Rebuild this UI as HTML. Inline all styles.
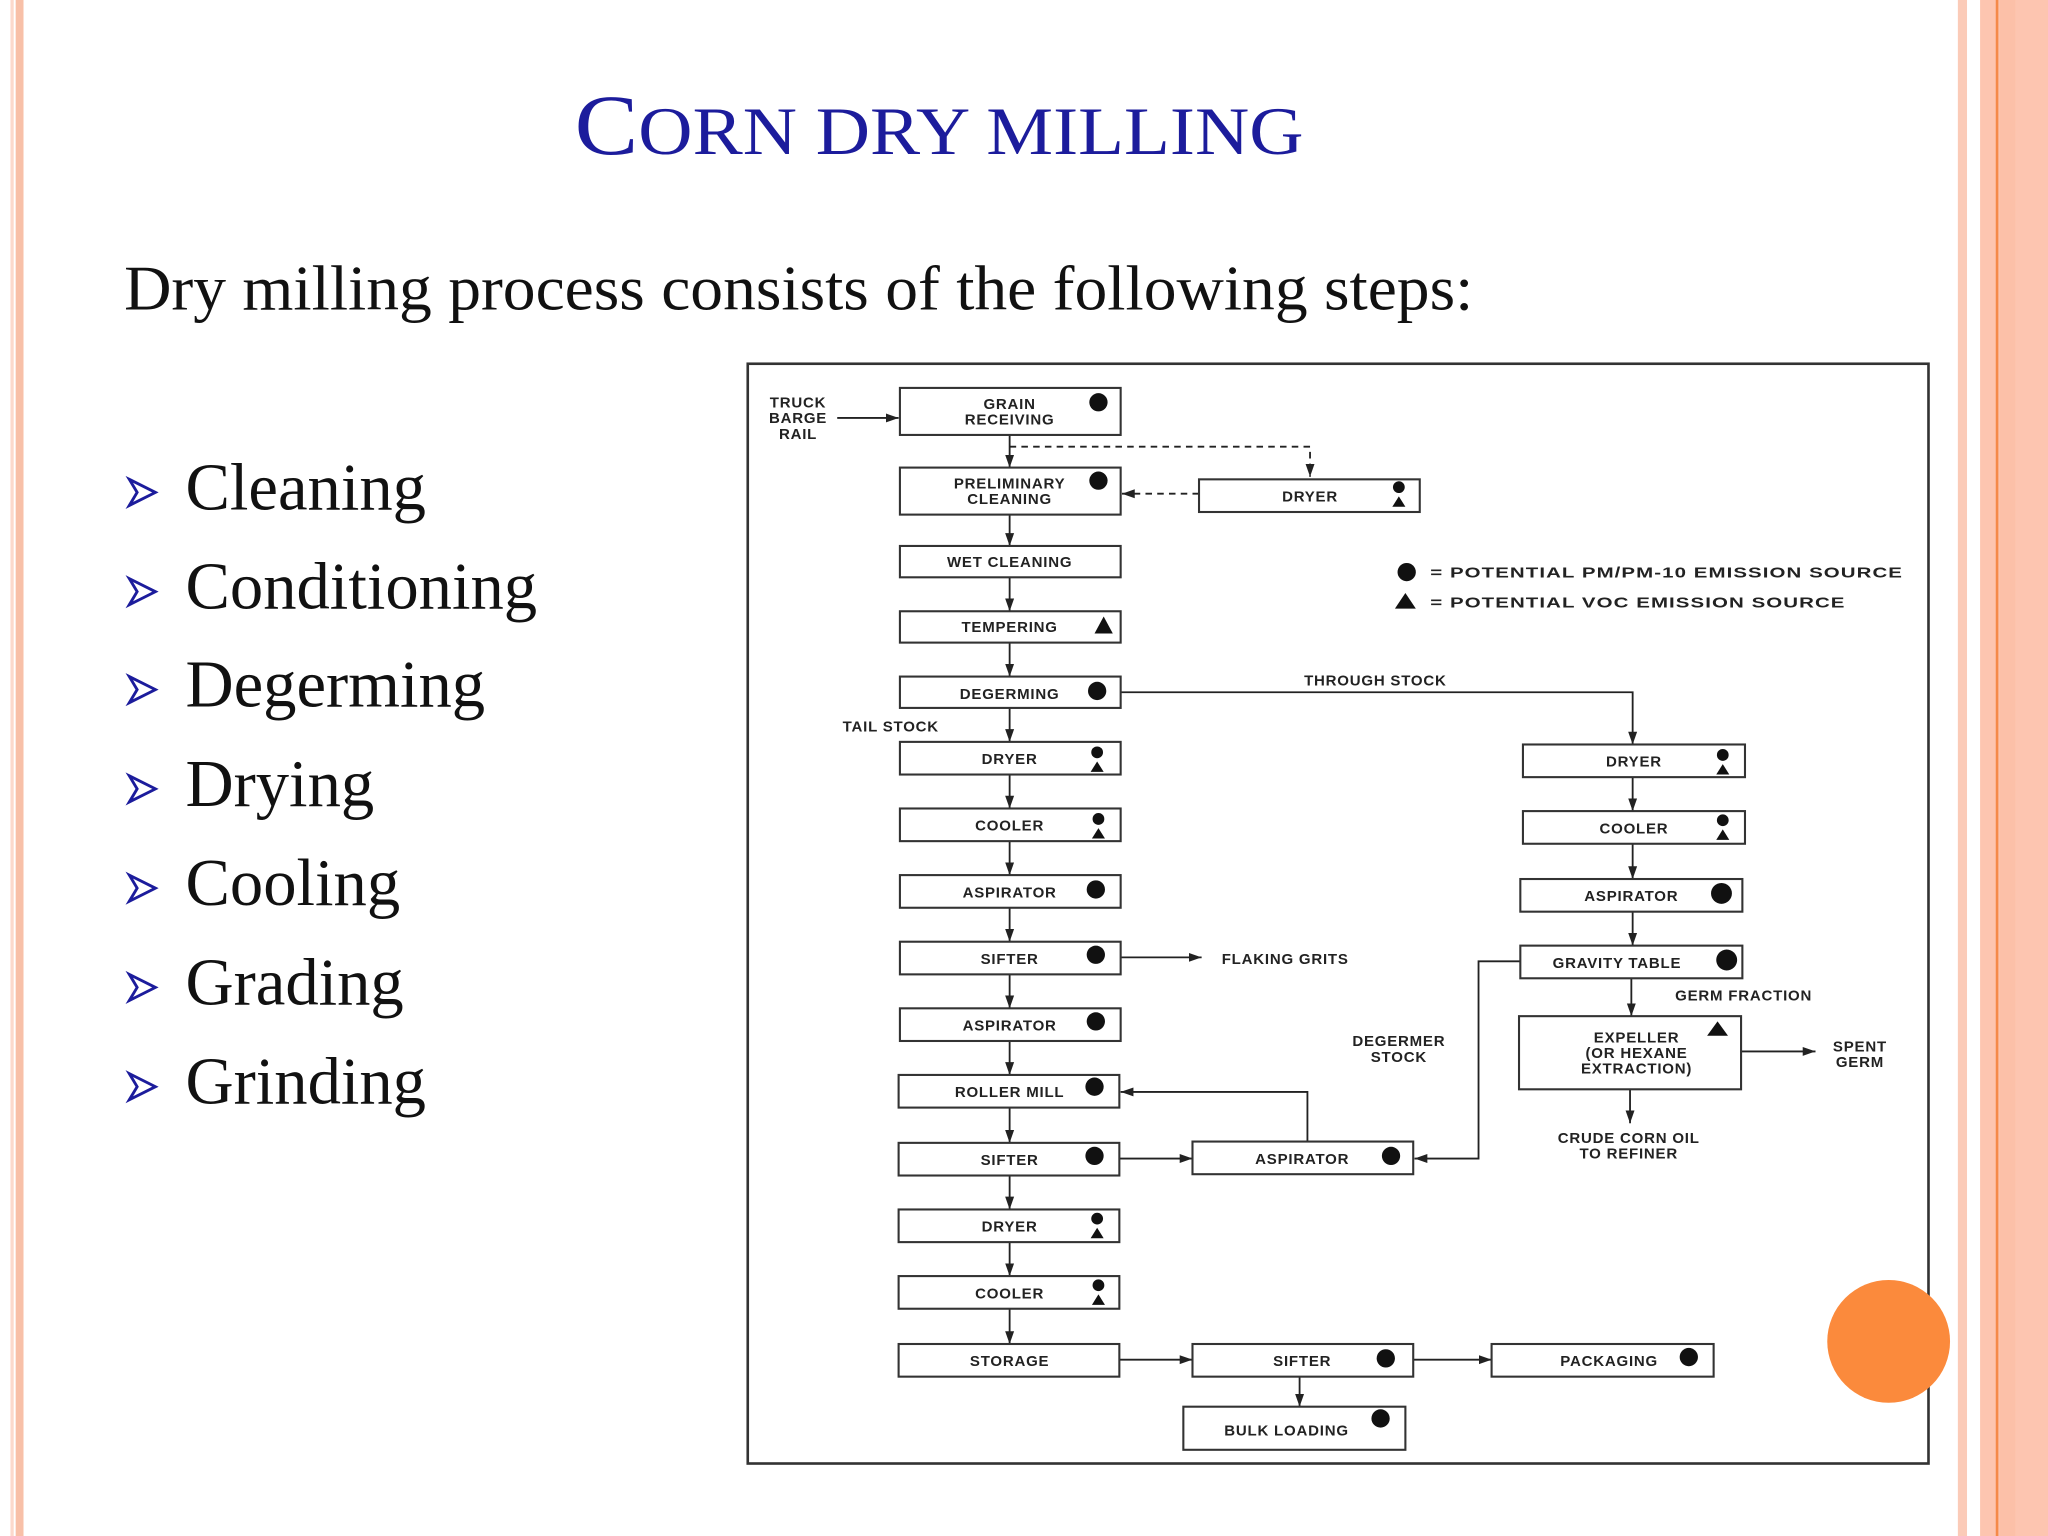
<!DOCTYPE html>
<html><head><meta charset="utf-8"><style>
html,body{margin:0;padding:0;background:#fff;}
svg{display:block;}
.d{font-family:"Liberation Sans",sans-serif;font-weight:bold;font-size:11.5px;letter-spacing:0.6px;fill:#222;text-anchor:middle;}
.b{fill:#fff;stroke:#333;stroke-width:1.6;}
.l{stroke:#222;stroke-width:1.4;fill:none;}
.dash{stroke:#222;stroke-width:1.4;fill:none;stroke-dasharray:5,4;}
</style></head><body>
<svg width="2048" height="1536" viewBox="0 0 1568 1176" xmlns="http://www.w3.org/2000/svg">
<defs>
<marker id="a" viewBox="0 0 10 10" refX="10" refY="5" markerWidth="7" markerHeight="7" orient="auto"><path d="M0,1.5 L10,5 L0,8.5 z" fill="#222"/></marker>
</defs>
<rect width="1568" height="1176" fill="#fff"/>
<rect x="8" y="0" width="2.5" height="1176" fill="#fcd9cc"/>
<rect x="12" y="0" width="6" height="1176" fill="#f8c0a8"/>
<rect x="1499" y="0" width="7" height="1176" fill="#fbcbb8"/>
<rect x="1516" y="0" width="52" height="1176" fill="#fdc5b0"/>
<rect x="1528" y="0" width="2" height="1176" fill="#f58a4a"/>
<rect x="1531" y="0" width="12" height="1176" fill="#fcc0a8"/>
<text x="719" y="118" text-anchor="middle" font-family="Liberation Serif,serif" font-size="66" fill="#1c1c9c" textLength="558" lengthAdjust="spacingAndGlyphs">C<tspan font-size="52">ORN DRY MILLING</tspan></text>
<text x="95" y="237" font-family="Liberation Serif,serif" font-size="49" fill="#111" textLength="1033" lengthAdjust="spacingAndGlyphs">Dry milling process consists of the following steps:</text>
<g font-family="Liberation Serif,serif" font-size="51" fill="#111">
<text x="142" y="390">Cleaning</text>
<text x="142" y="466">Conditioning</text>
<text x="142" y="541">Degerming</text>
<text x="142" y="617">Drying</text>
<text x="142" y="693">Cooling</text>
<text x="142" y="769">Grading</text>
<text x="142" y="845">Grinding</text>
</g>
<g fill="none" stroke="#1c1c9c" stroke-width="2.2" stroke-linejoin="miter">
<path d="M99,367 L119,377 L99,387 L105,377 z"/>
<path d="M99,443 L119,453 L99,463 L105,453 z"/>
<path d="M99,518 L119,528 L99,538 L105,528 z"/>
<path d="M99,594 L119,604 L99,614 L105,604 z"/>
<path d="M99,670 L119,680 L99,690 L105,680 z"/>
<path d="M99,746 L119,756 L99,766 L105,756 z"/>
<path d="M99,822 L119,832 L99,842 L105,832 z"/>
</g>
<rect x="572.5" y="278.5" width="904" height="842" fill="#fff" stroke="#333" stroke-width="2"/>
<g class="l">
<line x1="641" y1="320" x2="688" y2="320" marker-end="url(#a)"/>
<line x1="773" y1="333" x2="773" y2="358" marker-end="url(#a)"/>
<line x1="773" y1="394" x2="773" y2="418" marker-end="url(#a)"/>
<line x1="773" y1="442" x2="773" y2="468" marker-end="url(#a)"/>
<line x1="773" y1="492" x2="773" y2="518" marker-end="url(#a)"/>
<line x1="773" y1="542" x2="773" y2="568" marker-end="url(#a)"/>
<line x1="773" y1="593" x2="773" y2="619" marker-end="url(#a)"/>
<line x1="773" y1="644" x2="773" y2="670" marker-end="url(#a)"/>
<line x1="773" y1="695" x2="773" y2="721" marker-end="url(#a)"/>
<line x1="773" y1="746" x2="773" y2="772" marker-end="url(#a)"/>
<line x1="773" y1="797" x2="773" y2="823" marker-end="url(#a)"/>
<line x1="773" y1="848" x2="773" y2="875" marker-end="url(#a)"/>
<line x1="773" y1="900" x2="773" y2="926" marker-end="url(#a)"/>
<line x1="773" y1="951" x2="773" y2="977" marker-end="url(#a)"/>
<line x1="773" y1="1002" x2="773" y2="1029" marker-end="url(#a)"/>
<line x1="858" y1="733" x2="920" y2="733" marker-end="url(#a)"/>
<polyline points="858,530 1250,530 1250,570" marker-end="url(#a)"/>
<line x1="1250" y1="595" x2="1250" y2="621" marker-end="url(#a)"/>
<line x1="1250" y1="646" x2="1250" y2="673" marker-end="url(#a)"/>
<line x1="1250" y1="698" x2="1250" y2="724" marker-end="url(#a)"/>
<line x1="1249" y1="749" x2="1249" y2="778" marker-end="url(#a)"/>
<line x1="1333" y1="805" x2="1390" y2="805" marker-end="url(#a)"/>
<line x1="1248" y1="834" x2="1248" y2="860" marker-end="url(#a)"/>
<polyline points="1164,736 1132,736 1132,887 1083,887" marker-end="url(#a)"/>
<polyline points="1001,874 1001,836 858,836" marker-end="url(#a)"/>
<line x1="857" y1="887" x2="913" y2="887" marker-end="url(#a)"/>
<line x1="857" y1="1041" x2="913" y2="1041" marker-end="url(#a)"/>
<line x1="1082" y1="1041" x2="1142" y2="1041" marker-end="url(#a)"/>
<line x1="995" y1="1054" x2="995" y2="1077" marker-end="url(#a)"/>
</g>
<polyline class="dash" points="773,342 1003,342 1003,365" marker-end="url(#a)"/>
<line class="dash" x1="918" y1="378" x2="859" y2="378" marker-end="url(#a)"/>
<g>
<rect class="b" x="689" y="297" width="169" height="36"/>
<rect class="b" x="689" y="358" width="169" height="36"/>
<rect class="b" x="918" y="367" width="169" height="25"/>
<rect class="b" x="689" y="418" width="169" height="24"/>
<rect class="b" x="689" y="468" width="169" height="24"/>
<rect class="b" x="689" y="518" width="169" height="24"/>
<rect class="b" x="689" y="568" width="169" height="25"/>
<rect class="b" x="689" y="619" width="169" height="25"/>
<rect class="b" x="689" y="670" width="169" height="25"/>
<rect class="b" x="689" y="721" width="169" height="25"/>
<rect class="b" x="689" y="772" width="169" height="25"/>
<rect class="b" x="688" y="823" width="169" height="25"/>
<rect class="b" x="688" y="875" width="169" height="25"/>
<rect class="b" x="688" y="926" width="169" height="25"/>
<rect class="b" x="688" y="977" width="169" height="25"/>
<rect class="b" x="688" y="1029" width="169" height="25"/>
<rect class="b" x="913" y="1029" width="169" height="25"/>
<rect class="b" x="1142" y="1029" width="170" height="25"/>
<rect class="b" x="906" y="1077" width="170" height="33"/>
<rect class="b" x="913" y="874" width="169" height="25"/>
<rect class="b" x="1166" y="570" width="170" height="25"/>
<rect class="b" x="1166" y="621" width="170" height="25"/>
<rect class="b" x="1164" y="673" width="170" height="25"/>
<rect class="b" x="1164" y="724" width="170" height="25"/>
<rect class="b" x="1163" y="778" width="170" height="56"/>
</g>
<g fill="#111">
<circle cx="841" cy="308" r="7"/>
<circle cx="841" cy="368" r="7"/>
<path d="M845,472 L852,485 L838,485 z"/>
<circle cx="840" cy="529" r="7"/>
<circle cx="839" cy="681" r="7"/>
<circle cx="839" cy="731" r="7"/>
<circle cx="839" cy="782" r="7"/>
<circle cx="838" cy="832" r="7"/>
<circle cx="838" cy="885" r="7"/>
<circle cx="1065" cy="885" r="7"/>
<circle cx="1061" cy="1040" r="7"/>
<circle cx="1293" cy="1039" r="7"/>
<circle cx="1057" cy="1086" r="7"/>
<circle cx="1318" cy="684" r="8"/>
<circle cx="1322" cy="735" r="8"/>
<path d="M1315,782 L1323,793 L1307,793 z"/>
<circle cx="1071" cy="373" r="4.5"/><path d="M1071,380 L1076,388 L1066,388 z"/>
<circle cx="840" cy="576" r="4.5"/><path d="M840,583 L845,591 L835,591 z"/>
<circle cx="841" cy="627" r="4.5"/><path d="M841,634 L846,642 L836,642 z"/>
<circle cx="840" cy="933" r="4.5"/><path d="M840,940 L845,948 L835,948 z"/>
<circle cx="841" cy="984" r="4.5"/><path d="M841,991 L846,999 L836,999 z"/>
<circle cx="1319" cy="578" r="4.5"/><path d="M1319,585 L1324,593 L1314,593 z"/>
<circle cx="1319" cy="628" r="4.5"/><path d="M1319,635 L1324,643 L1314,643 z"/>
<circle cx="1077" cy="438" r="7"/>
<path d="M1076,454 L1084,466 L1068,466 z"/>
</g>
<g class="d">
<text x="611" y="312">TRUCK</text>
<text x="611" y="324">BARGE</text>
<text x="611" y="336">RAIL</text>
<text x="773" y="313">GRAIN</text>
<text x="773" y="325">RECEIVING</text>
<text x="773" y="374">PRELIMINARY</text>
<text x="773" y="386">CLEANING</text>
<text x="1003" y="384">DRYER</text>
<text x="773" y="434">WET CLEANING</text>
<text x="773" y="484">TEMPERING</text>
<text x="773" y="535">DEGERMING</text>
<text x="773" y="585">DRYER</text>
<text x="773" y="636">COOLER</text>
<text x="773" y="687">ASPIRATOR</text>
<text x="773" y="738">SIFTER</text>
<text x="773" y="789">ASPIRATOR</text>
<text x="773" y="840">ROLLER MILL</text>
<text x="773" y="892">SIFTER</text>
<text x="773" y="943">DRYER</text>
<text x="773" y="994">COOLER</text>
<text x="773" y="1046">STORAGE</text>
<text x="997" y="1046">SIFTER</text>
<text x="1232" y="1046">PACKAGING</text>
<text x="985" y="1099">BULK LOADING</text>
<text x="997" y="891">ASPIRATOR</text>
<text x="1251" y="587">DRYER</text>
<text x="1251" y="638">COOLER</text>
<text x="1249" y="690">ASPIRATOR</text>
<text x="1238" y="741">GRAVITY TABLE</text>
<text x="1253" y="798">EXPELLER</text>
<text x="1253" y="810">(OR  HEXANE</text>
<text x="1253" y="822">EXTRACTION)</text>
<text x="1335" y="766">GERM FRACTION</text>
<text x="1424" y="805">SPENT</text>
<text x="1424" y="817">GERM</text>
<text x="1247" y="875">CRUDE CORN OIL</text>
<text x="1247" y="887">TO REFINER</text>
<text x="1071" y="801">DEGERMER</text>
<text x="1071" y="813">STOCK</text>
<text x="1053" y="525">THROUGH STOCK</text>
<text x="682" y="560">TAIL STOCK</text>
<text x="984" y="738">FLAKING GRITS</text>
<text x="1095" y="442" text-anchor="start" textLength="362" lengthAdjust="spacingAndGlyphs">= POTENTIAL PM/PM-10 EMISSION SOURCE</text>
<text x="1095" y="465" text-anchor="start" textLength="318" lengthAdjust="spacingAndGlyphs">= POTENTIAL VOC EMISSION SOURCE</text>
</g>
<circle cx="1446" cy="1027" r="47" fill="#fb8a3c"/>
</svg>
</body></html>
